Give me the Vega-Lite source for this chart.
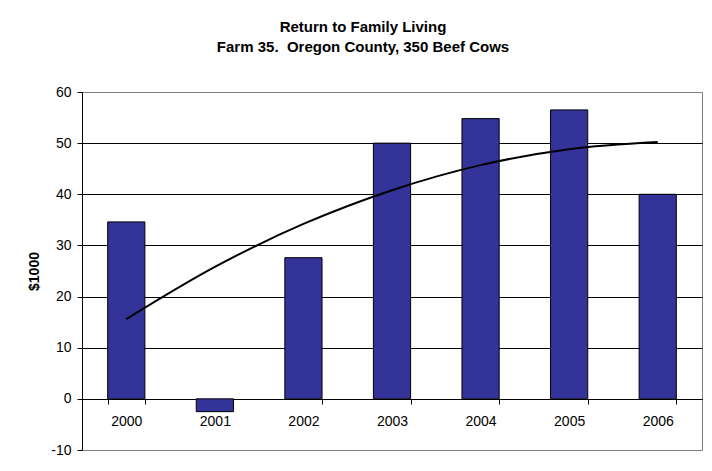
{
  "$schema": "https://vega.github.io/schema/vega-lite/v6.json",
  "width": 620,
  "height": 358,
  "autosize": "none",
  "padding": {"left": 82, "top": 92, "right": 10, "bottom": 21},
  "background": "white",
  "title": {
    "text": ["Return to Family Living", "Farm 35.\u00a0 Oregon County, 350 Beef Cows"],
    "font": "Liberation Sans",
    "fontSize": 15,
    "fontWeight": "bold",
    "lineHeight": 20,
    "frame": "group",
    "baseline": "bottom",
    "offset": 15,
    "dx": -29,
    "anchor": "middle",
    "color": "black"
  },
  "config": {
    "view": {"stroke": "#808080", "strokeWidth": 1},
    "font": "Liberation Sans",
    "axis": {"labelFont": "Liberation Sans", "titleFont": "Liberation Sans", "labelColor": "black", "titleColor": "black"}
  },
  "data": {
    "values": [
      {"year": "2000", "value": 34.6, "trend": 15.6},
      {"year": "2001", "value": -2.5, "trend": 25.8},
      {"year": "2002", "value": 27.6, "trend": 34.2},
      {"year": "2003", "value": 50.0, "trend": 40.8},
      {"year": "2004", "value": 54.8, "trend": 45.7},
      {"year": "2005", "value": 56.5, "trend": 48.8},
      {"year": "2006", "value": 40.0, "trend": 50.2}
    ]
  },
  "encoding": {
    "x": {
      "field": "year",
      "type": "ordinal",
      "scale": {"paddingInner": 0.58, "paddingOuter": 0.29},
      "axis": {
        "title": null,
        "labelAngle": 0,
        "offset": -51,
        "domainColor": "black",
        "tickColor": "black",
        "tickSize": 5,
        "tickBand": "extent",
        "labelPadding": 10,
        "labelFontSize": 14,
        "grid": false
      }
    }
  },
  "layer": [
    {
      "mark": {"type": "bar", "fill": "#333399", "stroke": "black", "strokeWidth": 1},
      "encoding": {
        "y": {
          "field": "value",
          "type": "quantitative",
          "scale": {"domain": [-10, 60], "nice": false, "zero": true},
          "axis": {
            "title": "$1000",
            "titleFontWeight": "bold",
            "titleFontSize": 14,
            "titlePadding": 9,
            "values": [-10, 0, 10, 20, 30, 40, 50, 60],
            "labelExpr": "replace(datum.label, '\u2212', '-')",
            "labelFontSize": 14,
            "labelPadding": 6,
            "tickSize": 5,
            "tickColor": "black",
            "domainColor": "black",
            "grid": true,
            "gridColor": {"condition": {"test": "datum.value == -10 || datum.value == 60", "value": "#808080"}, "value": "black"},
            "gridOpacity": 1
          }
        }
      }
    },
    {
      "mark": {"type": "line", "color": "black", "strokeWidth": 2, "interpolate": "monotone"},
      "encoding": {
        "y": {"field": "trend", "type": "quantitative"}
      }
    }
  ]
}
